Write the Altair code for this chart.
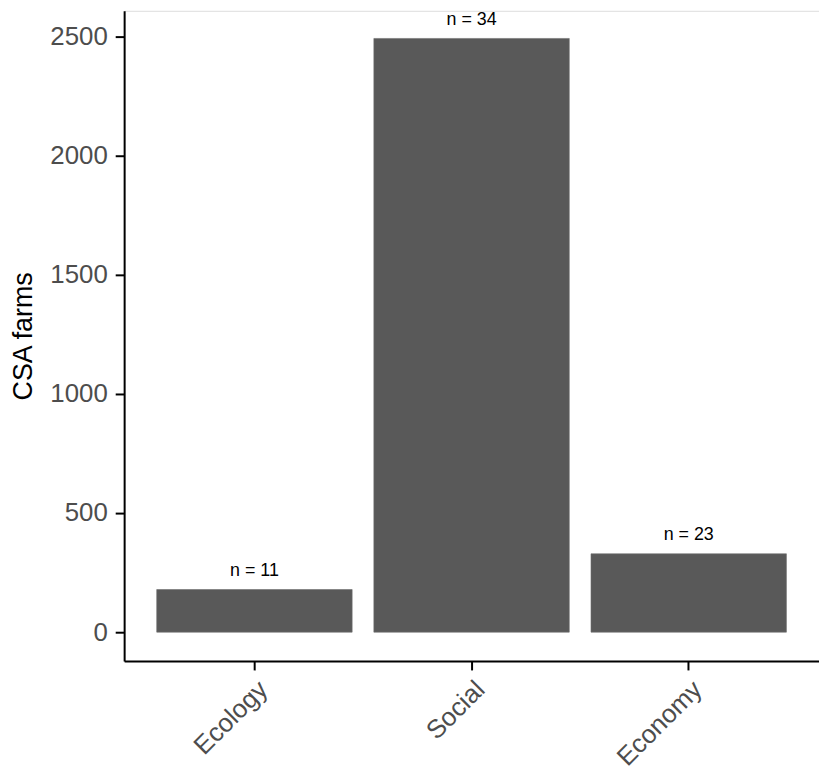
import altair as alt
import pandas as pd

categories = ["Ecology", "Social", "Economy"]
values = [179, 2492, 329]
labels = ["n = 11", "n = 34", "n = 23"]
y_ticks = [0, 500, 1000, 1500, 2000, 2500]

df = pd.DataFrame({"category": categories, "value": values, "label": labels})

FONT = "Liberation Sans"

x_enc = alt.X(
    "category:N",
    sort=None,
    title=None,
    scale=alt.Scale(paddingInner=0.1, paddingOuter=0.15),
    axis=alt.Axis(
        labelAngle=-45,
        labelAlign="right",
        labelBaseline="top",
        labelFontSize=26,
        labelColor="#4d4d4d",
        labelFont=FONT,
        labelPadding=6,
        tickSize=9,
        tickWidth=2,
        tickColor="black",
        domainColor="black",
        domainWidth=2,
        grid=False,
    ),
)

y_scale = alt.Scale(domain=[-121, 2608], nice=False, zero=False)

bars = alt.Chart(df).mark_bar(color="#595959", stroke="#6e6e6e", strokeWidth=0.6).encode(
    x=x_enc,
    y=alt.Y(
        "value:Q",
        scale=y_scale,
        title="CSA farms",
        axis=alt.Axis(
            values=y_ticks,
            format="d",
            labelFontSize=26,
            labelColor="#4d4d4d",
            labelFont=FONT,
            labelPadding=8,
            tickSize=9,
            tickWidth=2,
            tickColor="black",
            domainColor="black",
            domainWidth=2,
            grid=False,
            titleFontSize=27,
            titleFont=FONT,
            titleFontWeight="normal",
            titleColor="black",
            titlePadding=12,
        ),
    ),
)

text = alt.Chart(df).mark_text(
    font=FONT, fontSize=18, color="black", baseline="alphabetic", dy=-14
).encode(
    x=alt.X("category:N", sort=None),
    y=alt.Y("value:Q", scale=y_scale),
    text="label:N",
)

chart = (
    alt.layer(bars, text)
    .properties(
        width=700,
        height=655,
        autosize=alt.AutoSizeParams(type="none"),
        padding={"left": 117, "top": 0, "right": 0, "bottom": 110},
    )
    .configure_view(stroke=None)
    .configure(background="white")
)

chart.save("out.html", embed_options={"renderer": "svg", "actions": False})
